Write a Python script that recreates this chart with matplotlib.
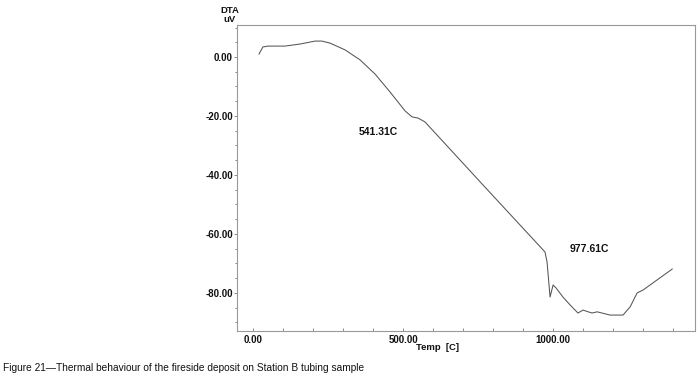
import matplotlib
matplotlib.use("Agg")
import matplotlib.pyplot as plt
from matplotlib.ticker import MultipleLocator, FixedLocator

# Data (Temp in C, DTA in uV)
temp = [20, 33, 50, 107, 157, 207, 230, 257, 307, 357, 407, 457, 507, 530, 550, 573,
        773, 973, 980, 990, 1000, 1010, 1033, 1057, 1083, 1100, 1117, 1130, 1147,
        1190, 1233, 1257, 1280, 1300, 1397]
dta = [1.0, 3.4, 3.7, 3.7, 4.4, 5.4, 5.4, 4.7, 2.4, -1.0, -5.8, -11.9, -18.3, -20.3, -20.7, -22.0,
       -44.1, -66.1, -69.5, -81.4, -77.3, -78.3, -81.4, -84.1, -86.8, -85.8, -86.4, -86.8, -86.4,
       -87.5, -87.5, -84.7, -80.0, -79.0, -71.9]

x_ticks = [0, 500, 1000]
x_tick_labels = ["0.00", "500.00", "1000.00"]
y_ticks = [0, -20, -40, -60, -80]
y_tick_labels = ["0.00", "-20.00", "-40.00", "-60.00", "-80.00"]

peak_labels = ["541.31C", "977.61C"]
peak_label_pos = [(417, -25.5), (1120, -65)]

plt.rcParams['font.family'] = ['Liberation Sans', 'DejaVu Sans']

fig = plt.figure(figsize=(7, 3.8), dpi=100)
ax = fig.add_axes([237/700, 1 - 331/380, (695-237)/700, (331-25)/380])

ax.plot(temp, dta, color='#555555', lw=0.75)

ax.set_xlim(-53.3, 1473)
ax.set_ylim(-92.9, 10.85)

ax.xaxis.set_major_locator(FixedLocator(x_ticks))
ax.set_xticklabels(x_tick_labels)
ax.xaxis.set_minor_locator(MultipleLocator(100))
ax.yaxis.set_major_locator(FixedLocator(y_ticks))
ax.set_yticklabels(y_tick_labels)
ax.yaxis.set_minor_locator(MultipleLocator(5))

ax.tick_params(axis='both', which='both', colors='#777777', labelcolor='#111111',
               labelsize=7, width=0.6)
ax.tick_params(axis='x', which='both', direction='in', length=2.5, pad=3)
ax.tick_params(axis='y', which='major', direction='out', length=2.5, pad=0.5)
ax.tick_params(axis='y', which='minor', direction='out', length=1.5)
for lab in ax.get_xticklabels() + ax.get_yticklabels():
    lab.set_fontweight('bold')

for s in ax.spines.values():
    s.set_color('#999999')
    s.set_linewidth(0.8)

for txt, (px, py) in zip(peak_labels, peak_label_pos):
    ax.text(px, py, txt, fontsize=7.5, fontweight='bold', ha='center', va='center', color='#111111')

fig.text(230/700, 1 - 15/380, "DTA\nuV", fontsize=6.8, fontweight='bold', ha='center',
         va='center', linespacing=0.95, color='#111111')
fig.text(437/700, 1 - 348/380, "Temp  [C]", fontsize=6.8, fontweight='bold', ha='center',
         va='center', color='#111111')
fig.text(3/700, 1 - 368/380, "Figure 21\u2014Thermal behaviour of the fireside deposit on Station B tubing sample",
         fontsize=7.3, ha='left', va='center', color='#111111')

fig.savefig("out.png", dpi=100)
